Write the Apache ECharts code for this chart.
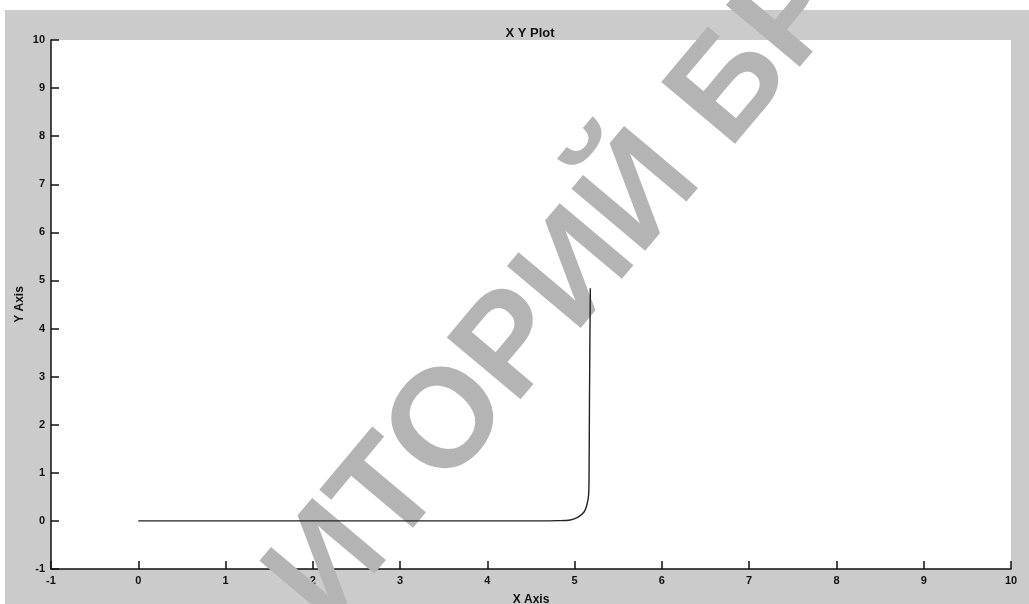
<!DOCTYPE html>
<html>
<head>
<meta charset="utf-8">
<title>X Y Plot</title>
<script src="https://cdn.jsdelivr.net/npm/echarts@6/dist/echarts.min.js"></script>
<style>
  html, body { margin: 0; padding: 0; background: #fff; }
  #chart { width: 1029px; height: 604px; }
</style>
</head>
<body>
<div id="chart"></div>
<script>
  // curve points
  const xValues = [0, 1, 2, 3, 4, 4.6, 4.8, 4.95, 5.04, 5.11, 5.14, 5.16, 5.165, 5.17, 5.175, 5.18];
  const yValues = [0, 0, 0, 0, 0, 0, 0.005, 0.02, 0.08, 0.19, 0.33, 0.54, 0.91, 2.5, 3.8, 4.84];

  const chart = echarts.init(document.getElementById("chart"));

  const labelFont = {
    fontFamily: "Liberation Sans, Arial, sans-serif",
    fontWeight: "bold",
    fontSize: 11,
    color: "#111",
  };

  const option = {
    backgroundColor: "#fff",
    animation: false,
    title: {
      text: "X Y Plot",
      left: 525,
      top: 22,
      textAlign: "center",
      textStyle: {
        fontFamily: "Liberation Sans, Arial, sans-serif",
        fontWeight: "bold",
        fontSize: 13,
        color: "#111",
      },
    },
    graphic: [
      {
        // grey scanned page around the axes
        type: "rect",
        z: -10,
        silent: true,
        shape: { x: 5, y: 10, width: 1024, height: 594 },
        style: { fill: "#cbcbcb" },
      },
      {
        // watermark
        type: "text",
        z: 1,
        silent: true,
        x: 244,
        y: 560,
        rotation: (50 * Math.PI) / 180,
        style: {
          text: "ИТОРИЙ БРУ",
          x: 0,
          y: 0,
          textAlign: "left",
          textVerticalAlign: "alphabetic",
          fontFamily: "Liberation Sans, Arial, sans-serif",
          fontWeight: "bold",
          fontSize: 140,
          fill: "#b4b4b4",
        },
      },
    ],
    grid: {
      left: 51,
      top: 40,
      right: 18,
      bottom: 35,
      show: true,
      backgroundColor: "#fff",
      borderWidth: 0,
      containLabel: false,
      outerBoundsMode: "none",
    },
    xAxis: {
      type: "value",
      min: -1,
      max: 10,
      interval: 1,
      name: "X Axis",
      nameLocation: "middle",
      nameGap: 25,
      nameMoveOverlap: false,
      nameTextStyle: { ...labelFont, fontSize: 12 },
      axisLine: { show: true, onZero: false, lineStyle: { color: "#111", width: 1.5 } },
      axisTick: { show: true, inside: true, length: 8, lineStyle: { color: "#111", width: 1.5 } },
      axisLabel: { ...labelFont, margin: 6 },
      splitLine: { show: false },
    },
    yAxis: {
      type: "value",
      min: -1,
      max: 10,
      interval: 1,
      name: "Y Axis",
      nameLocation: "middle",
      nameGap: 25,
      nameMoveOverlap: false,
      nameTextStyle: { ...labelFont, fontSize: 12 },
      axisLine: { show: true, onZero: false, lineStyle: { color: "#111", width: 1.5 } },
      axisTick: { show: true, inside: true, length: 8, lineStyle: { color: "#111", width: 1.5 } },
      axisLabel: { ...labelFont, margin: 6 },
      splitLine: { show: false },
    },
    series: [
      {
        type: "line",
        data: xValues.map((x, i) => [x, yValues[i]]),
        showSymbol: false,
        smooth: 0.3,
        lineStyle: { color: "#222", width: 1.4 },
        z: 2,
      },
    ],
  };

  chart.setOption(option);
</script>
</body>
</html>
